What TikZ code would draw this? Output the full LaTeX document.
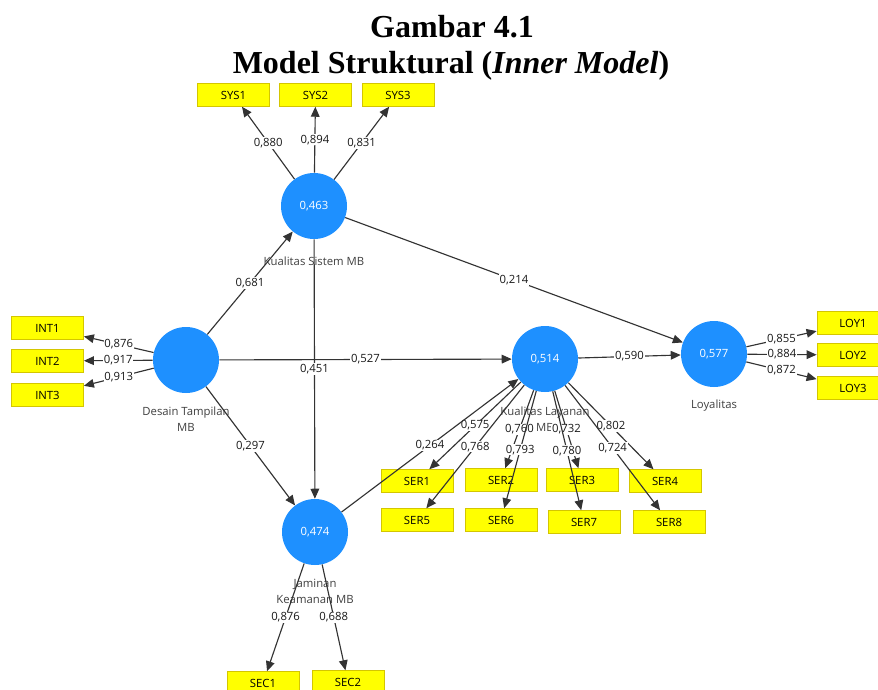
\documentclass[tikz,border=0pt]{standalone}
\usepackage{fontspec}
\setmainfont{Liberation Serif}
\newfontfamily\plsfont{Open Sans}
\usetikzlibrary{arrows.meta}

\definecolor{lvblue}{RGB}{30,144,255}
\definecolor{mvyellow}{RGB}{255,255,0}
\definecolor{mvedge}{RGB}{212,198,0}

\begin{document}
\begin{tikzpicture}[x=0.75pt,y=-0.75pt,
	every node/.style={font=\plsfont\fontsize{8.5}{12}\selectfont},
	latent/.style={circle,fill=lvblue,minimum size=49.5pt,inner sep=0pt,text=white},
	indicator/.style={rectangle,fill=mvyellow,draw=mvedge,line width=0.6pt,minimum width=54pt,minimum height=17pt,inner sep=0pt},
	lvname/.style={text=black!75,align=center},
	coef/.style={fill=white,inner sep=0.6pt,text=black!90},
	link/.style={draw=black!80,line width=0.85pt,-{Triangle[length=7.5pt,width=6.5pt]}}]
	\clip (0,0) rectangle (878,689);
	\fill[white] (0,0) rectangle (878,689);
	% title
	\node[anchor=base,font=\rmfamily\bfseries\fontsize{24}{28}\selectfont](T1) at (452,37){Gambar 4.1};
	\node[anchor=base,font=\rmfamily\bfseries\fontsize{24}{28}\selectfont](T2) at (451,73){Model Struktural (\textit{Inner Model})};
	% latent variables
	\node[latent](SYS) at (314,206){0,463};
	\node[latent](INT) at (186,360){};
	\node[latent](SER) at (545,359){0,514};
	\node[latent](LOY) at (714,354){0,577};
	\node[latent](SEC) at (315,532){0,474};
	\node[lvname](SYSn) at (314,261){Kualitas Sistem MB};
	\node[lvname](INTn) at (186,419){Desain Tampilan\\MB};
	\node[lvname](SERn) at (545,419){Kualitas Layanan\\MB};
	\node[lvname](LOYn) at (714,406){Loyalitas};
	\node[lvname](SECn) at (315,591){Jaminan\\Keamanan MB};
	% indicators
	\node[indicator](SYS1) at (233.5,95){SYS1};
	\node[indicator](SYS2) at (315.5,95){SYS2};
	\node[indicator](SYS3) at (398,95){SYS3};
	\node[indicator](INT1) at (47.5,328){INT1};
	\node[indicator](INT2) at (47.5,361){INT2};
	\node[indicator](INT3) at (47.5,395){INT3};
	\node[indicator](LOY1) at (853,323){LOY1};
	\node[indicator](LOY2) at (853,355){LOY2};
	\node[indicator](LOY3) at (853,388){LOY3};
	\node[indicator](SER1) at (417,481){SER1};
	\node[indicator](SER2) at (501,480){SER2};
	\node[indicator](SER3) at (582,480){SER3};
	\node[indicator](SER4) at (665,481){SER4};
	\node[indicator](SER5) at (417,520){SER5};
	\node[indicator](SER6) at (501,520){SER6};
	\node[indicator](SER7) at (584,522){SER7};
	\node[indicator](SER8) at (669,522){SER8};
	\node[indicator](SEC1) at (263,683){SEC1};
	\node[indicator](SEC2) at (348,682){SEC2};
	% outer loadings
	\draw[link] (SYS) -- node[coef]{0,880} (SYS1);
	\draw[link] (SYS) -- node[coef]{0,894} (SYS2);
	\draw[link] (SYS) -- node[coef]{0,831} (SYS3);
	\draw[link] (INT) -- node[coef]{0,876} (INT1);
	\draw[link] (INT) -- node[coef]{0,917} (INT2);
	\draw[link] (INT) -- node[coef]{0,913} (INT3);
	\draw[link] (LOY) -- node[coef]{0,855} (LOY1);
	\draw[link] (LOY) -- node[coef]{0,884} (LOY2);
	\draw[link] (LOY) -- node[coef]{0,872} (LOY3);
	\draw[link] (SER) -- node[coef]{0,575} (SER1);
	\draw[link] (SER) -- node[coef]{0,760} (SER2);
	\draw[link] (SER) -- node[coef]{0,732} (SER3);
	\draw[link] (SER) -- node[coef]{0,802} (SER4);
	\draw[link] (SER) -- node[coef]{0,768} (SER5);
	\draw[link] (SER) -- node[coef]{0,793} (SER6);
	\draw[link] (SER) -- node[coef]{0,780} (SER7);
	\draw[link] (SER) -- node[coef]{0,724} (SER8);
	\draw[link] (SEC) -- node[coef]{0,876} (SEC1);
	\draw[link] (SEC) -- node[coef]{0,688} (SEC2);
	% path coefficients
	\draw[link] (INT) -- node[coef]{0,681} (SYS);
	\draw[link] (INT) -- node[coef]{0,527} (SER);
	\draw[link] (INT) -- node[coef]{0,297} (SEC);
	\draw[link] (SYS) -- node[coef]{0,451} (SEC);
	\draw[link] (SYS) -- node[coef]{0,214} (LOY);
	\draw[link] (SER) -- node[coef]{0,590} (LOY);
	\draw[link] (SEC) -- node[coef]{0,264} (SER);
\end{tikzpicture}
\end{document}
